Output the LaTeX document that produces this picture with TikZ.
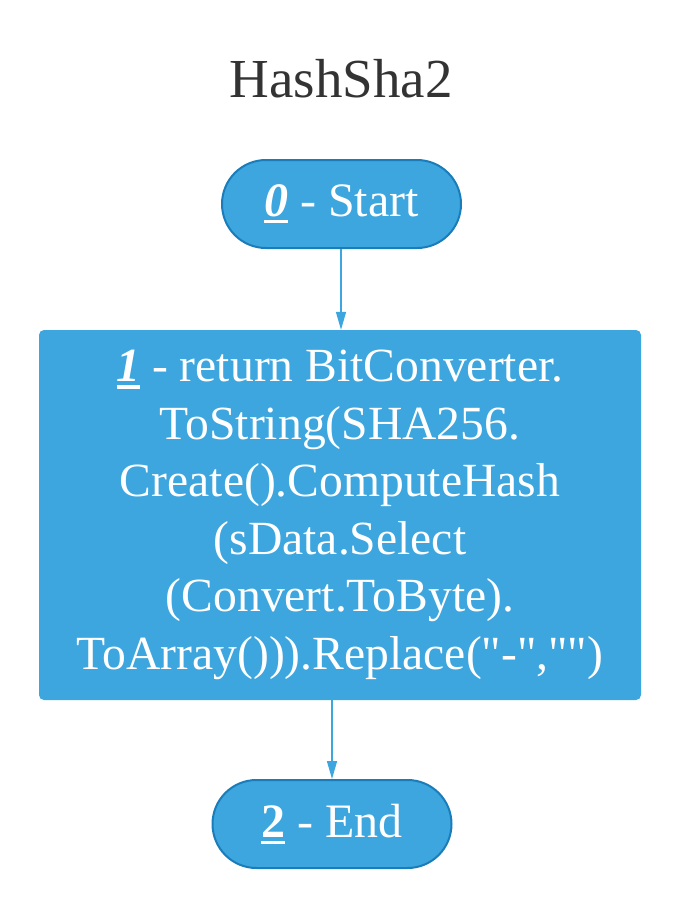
\documentclass[tikz,border=0pt]{standalone}
\usepackage{fontspec}
\setmainfont{Liberation Serif}
\usetikzlibrary{arrows.meta}
\definecolor{flowfill}{HTML}{3DA6DE}
\definecolor{flowedge}{HTML}{1A7DBA}
\definecolor{titlegray}{HTML}{333333}
\newcommand\numul[1]{{\setbox0\hbox{#1}\dimen0=\wd0 \rlap{\rule[-7pt]{\dimen0}{3.5pt}}\box0}}
\newcommand\dq{\XeTeXglyph\XeTeXcharglyph34\relax}
\tikzset{
  terminal/.style={draw=flowedge, line width=2pt, fill=flowfill, rounded corners=44pt,
    minimum width=239pt, minimum height=88pt, inner sep=0pt, text=white,
    font=\fontsize{48}{57.5}\selectfont},
  process/.style={fill=flowfill, rounded corners=5pt, minimum width=602pt,
    minimum height=370pt, inner sep=0pt, text=white, align=center,
    font=\fontsize{47.6}{57.5}\selectfont},
  flow/.style={draw=flowfill, line width=1.5pt, -{Triangle[length=18pt,width=10pt]}}
}

\begin{document}
\begin{tikzpicture}[x=1pt, y=-1pt]
        \useasboundingbox (0,0) rectangle (680,911);
        \node[anchor=base, text=titlegray, font=\fontsize{55}{66}\selectfont] (title) at (341,97) {HashSha2};
        \node[terminal] (start) at (341.5,204) {\numul{\textbf{\textit{0}}} - Start};
        \node[process] (ret) at (340,515) {\numul{\textbf{\textit{1}}} - return BitConverter.\\ToString(SHA256.\\Create().ComputeHash\\(sData.Select\\(Convert.ToByte).\\ToArray())).Replace(\dq-\dq,\dq\dq)};
        \node[terminal] (end) at (332,824) {\numul{\textbf{2}} - End};

        \draw[flow] (start.south -| 341,0) -- (ret.north -| 341,0);
        \draw[flow] (ret.south -| end.north) -- (end.north);
    \end{tikzpicture}
\end{document}
